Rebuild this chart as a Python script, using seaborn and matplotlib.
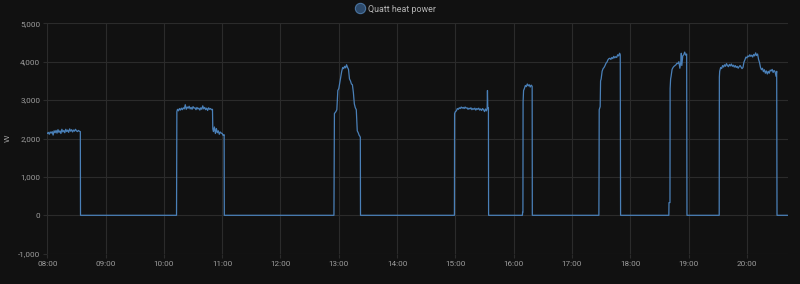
import matplotlib
matplotlib.use("Agg")
import matplotlib.pyplot as plt
import matplotlib.dates as mdates
from matplotlib.lines import Line2D
from matplotlib.ticker import FuncFormatter, MultipleLocator
import numpy as np
import pandas as pd
import seaborn as sns

# ---------------- data ----------------
series_name = "Quatt heat power"
y_label = "W"
x_start = "08:00"
x_end = "20:42"
y_min, y_max = -1000, 5000

times = [
    # 08:00 - 08:34
    "08:00:00", "08:01:00", "08:02:00", "08:03:00", "08:04:00", "08:05:00", "08:06:00", "08:07:00",
    "08:08:00", "08:09:00", "08:10:00", "08:11:00", "08:12:00", "08:13:00", "08:14:00", "08:15:00",
    "08:16:00", "08:17:00", "08:18:00", "08:19:00", "08:20:00", "08:21:00", "08:22:00", "08:23:00",
    "08:24:00", "08:25:00", "08:26:00", "08:27:00", "08:28:00", "08:29:00", "08:30:00", "08:31:00",
    "08:32:00", "08:33:00", "08:34:00", "08:34:10",
    # 10:13 - 11:02
    "10:13:00", "10:13:20", "10:14:00", "10:15:00", "10:16:00", "10:17:00", "10:18:00", "10:19:00",
    "10:20:00", "10:21:00", "10:22:00", "10:23:00", "10:24:00", "10:25:00", "10:26:00", "10:27:00",
    "10:28:00", "10:29:00", "10:30:00", "10:31:00", "10:32:00", "10:33:00", "10:34:00", "10:35:00",
    "10:36:00", "10:37:00", "10:38:00", "10:39:00", "10:40:00", "10:41:00", "10:42:00", "10:43:00",
    "10:44:00", "10:45:00", "10:46:00", "10:47:00", "10:48:00", "10:49:00", "10:50:00", "10:50:20",
    "10:51:00", "10:52:00", "10:53:00", "10:54:00", "10:55:00", "10:56:00", "10:57:00", "10:58:00",
    "10:59:00", "11:00:00", "11:01:00", "11:02:00", "11:02:10",
    # 12:55 - 13:22
    "12:55:00", "12:55:05", "12:55:30", "12:57:00", "12:58:00", "12:59:00", "13:00:00", "13:01:00",
    "13:02:00", "13:03:00", "13:04:00", "13:05:00", "13:06:00", "13:07:00", "13:08:00", "13:09:00",
    "13:10:00", "13:11:00", "13:12:00", "13:13:00", "13:14:00", "13:15:00", "13:16:00", "13:17:00",
    "13:18:00", "13:19:00", "13:20:00", "13:21:00", "13:21:40", "13:22:10", "13:22:20",
    # 14:59 - 15:34
    "14:59:00", "14:59:10", "15:00:00", "15:01:00", "15:02:00", "15:03:00", "15:04:00", "15:05:00",
    "15:06:00", "15:07:00", "15:08:00", "15:09:00", "15:10:00", "15:11:00", "15:12:00", "15:13:00",
    "15:14:00", "15:15:00", "15:16:00", "15:17:00", "15:18:00", "15:19:00", "15:20:00", "15:21:00",
    "15:22:00", "15:23:00", "15:24:00", "15:25:00", "15:26:00", "15:27:00", "15:28:00", "15:29:00",
    "15:30:00", "15:31:00", "15:32:00", "15:32:40", "15:33:00", "15:33:20", "15:34:00", "15:34:10",
    # 16:09 - 16:19
    "16:09:00", "16:09:10", "16:09:30", "16:09:40", "16:10:10", "16:11:00", "16:12:00", "16:13:00",
    "16:14:00", "16:15:00", "16:16:00", "16:17:00", "16:18:00", "16:19:00", "16:19:10",
    # 17:27 - 17:50
    "17:27:40", "17:27:50", "17:28:00", "17:29:00", "17:29:25", "17:30:00", "17:31:00", "17:32:00",
    "17:33:00", "17:34:00", "17:35:00", "17:36:00", "17:37:00", "17:38:00", "17:39:00", "17:40:00",
    "17:41:00", "17:42:00", "17:43:00", "17:44:00", "17:45:00", "17:46:00", "17:47:00", "17:48:00",
    "17:49:00", "17:49:40", "17:50:00",
    # 18:39 - 18:58
    "18:39:40", "18:39:50", "18:40:50", "18:41:00", "18:41:30", "18:42:00", "18:43:00", "18:44:00",
    "18:45:00", "18:46:00", "18:47:00", "18:48:00", "18:49:00", "18:50:00", "18:51:00", "18:52:00",
    "18:52:30", "18:53:00", "18:54:00", "18:55:00", "18:56:00", "18:57:00", "18:58:00", "18:58:20",
    # 19:31 - 20:31
    "19:31:30", "19:31:40", "19:32:00", "19:33:00", "19:34:00", "19:35:00", "19:36:00", "19:37:00",
    "19:38:00", "19:39:00", "19:40:00", "19:41:00", "19:42:00", "19:43:00", "19:44:00", "19:45:00",
    "19:46:00", "19:47:00", "19:48:00", "19:49:00", "19:50:00", "19:51:00", "19:52:00", "19:53:00",
    "19:54:00", "19:55:00", "19:56:00", "19:57:00", "19:58:00", "19:59:00", "20:00:00", "20:01:00",
    "20:02:00", "20:03:00", "20:04:00", "20:05:00", "20:06:00", "20:07:00", "20:08:00", "20:09:00",
    "20:10:00", "20:11:00", "20:12:00", "20:13:00", "20:14:00", "20:15:00", "20:16:00", "20:17:00",
    "20:18:00", "20:19:00", "20:20:00", "20:21:00", "20:22:00", "20:23:00", "20:24:00", "20:25:00",
    "20:26:00", "20:27:00", "20:28:00", "20:29:00", "20:30:00", "20:30:40", "20:31:00", "20:42:00",
]

watts = [
    # 08:00 - 08:34
    2130, 2160, 2110, 2170, 2140, 2180, 2090, 2200,
    2150, 2210, 2140, 2230, 2160, 2200, 2130, 2240,
    2170, 2210, 2150, 2240, 2180, 2220, 2160, 2250,
    2190, 2230, 2170, 2220, 2190, 2240, 2200, 2180,
    2210, 2190, 2180, 0,
    # 10:13 - 11:02
    0, 2700, 2760, 2720, 2780, 2740, 2790, 2750,
    2800, 2770, 2880, 2760, 2820, 2790, 2840, 2770,
    2810, 2760, 2830, 2790, 2800, 2750, 2810, 2770,
    2790, 2740, 2800, 2760, 2850, 2770, 2810, 2750,
    2790, 2730, 2800, 2760, 2780, 2750, 2760, 2250,
    2180, 2300, 2130, 2260, 2150, 2200, 2110, 2170,
    2140, 2130, 2080, 2100, 0,
    # 12:55 - 13:22
    0, 550, 2650, 2700, 2750, 3250, 3300, 3450,
    3600, 3750, 3850, 3820, 3880, 3840, 3920, 3850,
    3800, 3550, 3500, 3420, 3400, 3200, 2900, 2800,
    2750, 2200, 2150, 2080, 2060, 2030, 0,
    # 14:59 - 15:34
    0, 2650, 2700, 2720, 2780, 2760, 2800, 2780,
    2820, 2790, 2810, 2780, 2820, 2790, 2800, 2760,
    2790, 2770, 2800, 2750, 2780, 2760, 2790, 2740,
    2780, 2760, 2790, 2740, 2770, 2730, 2780, 2750,
    2700, 2770, 2720, 2780, 3250, 2800, 2800, 0,
    # 16:09 - 16:19
    0, 80, 80, 2950, 3250, 3300, 3380, 3350,
    3420, 3370, 3400, 3340, 3390, 3360, 0,
    # 17:27 - 17:50
    0, 1000, 2750, 2830, 3500, 3550, 3750, 3820,
    3850, 3900, 3960, 3990, 4050, 4080, 4090, 4060,
    4110, 4080, 4140, 4100, 4130, 4110, 4180, 4150,
    4220, 4180, 0,
    # 18:39 - 18:58
    0, 330, 330, 3300, 3550, 3620, 3800, 3850,
    3880, 3900, 3920, 3960, 3950, 4000, 3830, 4000,
    4220, 3900, 4150, 4180, 4250, 4170, 4200, 0,
    # 19:31 - 20:31
    0, 3600, 3750, 3850, 3820, 3900, 3860, 3920,
    3880, 3950, 3900, 3870, 3930, 3890, 3940, 3880,
    3910, 3860, 3900, 3850, 3880, 3830, 3870, 3900,
    3860, 3820, 3850, 3990, 4050, 4120, 4100, 4150,
    4130, 4180, 4140, 4170, 4120, 4190, 4150, 4230,
    4160, 4200, 4060, 3980, 3850, 3790, 3830, 3740,
    3790, 3700, 3760, 3680, 3750, 3700, 3780, 3760,
    3800, 3720, 3770, 3740, 3620, 3750, 0, 0,
]

# ---------------- styling ----------------
bg = "#111111"
grid_col = "#2b2b2b"
line_col = "#4a80b8"
tick_col = "#9c9c9c"
legend_col = "#b4b4b4"

sns.set_theme(style="dark")
plt.rcParams["font.family"] = ["Roboto", "DejaVu Sans"]

day = "2024-01-01 "
df = pd.DataFrame({
    "time": pd.to_datetime([day + t for t in times]),
    "watts": watts,
})

fig = plt.figure(figsize=(8.0, 2.84), dpi=100, facecolor=bg)
ax = fig.add_axes([47.3 / 800, (284 - 253.7) / 284, (787.7 - 47.3) / 800, (253.7 - 23.3) / 284])
ax.set_facecolor(bg)

sns.lineplot(data=df, x="time", y="watts", ax=ax, color=line_col, linewidth=0.9,
             estimator=None, sort=False, legend=False)

ax.set_xlim(pd.Timestamp(day + x_start), pd.Timestamp(day + x_end))
ax.set_ylim(y_min, y_max)

ax.xaxis.set_major_locator(mdates.HourLocator())
ax.xaxis.set_major_formatter(mdates.DateFormatter("%H:%M"))
ax.yaxis.set_major_locator(MultipleLocator(1000))
ax.yaxis.set_major_formatter(FuncFormatter(lambda v, p: f"{int(round(v)):,}"))

ax.grid(True, color=grid_col, linewidth=0.8)
ax.set_axisbelow(True)
for s in ax.spines.values():
    s.set_visible(False)

ax.tick_params(axis="both", which="major", length=3, width=0.8, color=grid_col,
               labelcolor=tick_col, labelsize=5.9, pad=2, bottom=True, left=True)

ax.set_xlabel("")
ax.set_ylabel(y_label, color=tick_col, fontsize=6, labelpad=5)

handle = Line2D([], [], marker="o", linestyle="", markersize=7.4,
                markerfacecolor="#2d4a6b", markeredgecolor="#4a74a0", markeredgewidth=0.8)
leg = fig.legend(handles=[handle], labels=[series_name], loc="center",
                 bbox_to_anchor=(396 / 800, 1 - 9 / 284), frameon=False,
                 handlelength=0.8, handletextpad=0.5, borderpad=0, fontsize=6.4)
for t in leg.get_texts():
    t.set_color(legend_col)

fig.savefig("out.png", dpi=100, facecolor=bg)
